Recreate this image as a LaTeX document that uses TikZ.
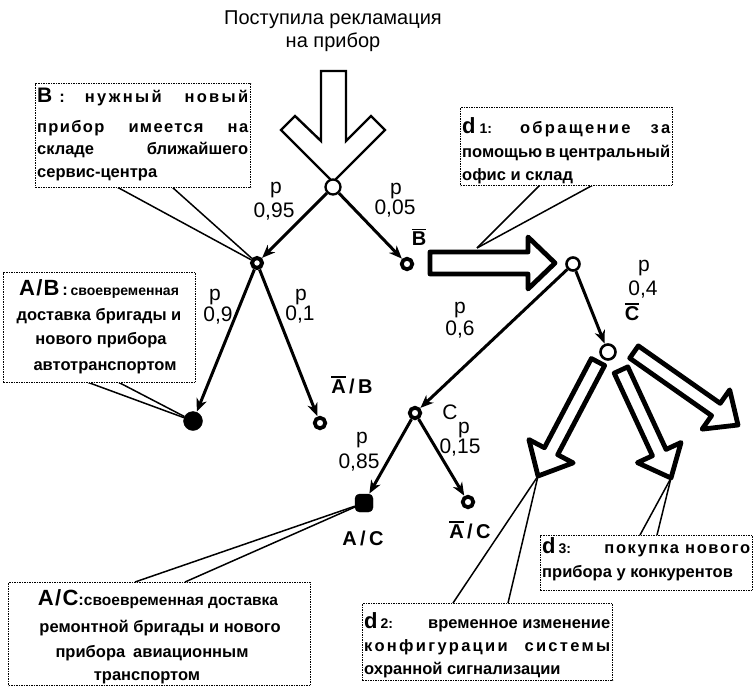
\documentclass[tikz,border=0pt]{standalone}
\usepackage{fontspec}
\setmainfont{Liberation Sans}
\usetikzlibrary{arrows.meta,calc}
\newcommand\fsz[1]{\fontsize{#1}{#1}\selectfont}
\newcommand\ovl[1]{\leavevmode\vbox{\hrule height 1.5pt\kern1.4pt\hbox{#1}}}
\newcommand\lsp[1]{\addfontfeatures{LetterSpace=#1}}
\newcommand\hollowarr[6][]{%
  \coordinate (hb) at ($(#3)!#6!(#2)$);
  \draw[harrow,#1] ($(#2)!#4!90:(#3)$) -- ($(hb)!#4!90:(#3)$) -- ($(hb)!#5!90:(#3)$) -- (#3)
     -- ($(hb)!#5!-90:(#3)$) -- ($(hb)!#4!-90:(#3)$) -- ($(#2)!#4!-90:(#3)$) -- cycle;}
\begin{document}
\begin{tikzpicture}[x=1pt,y=-1pt,
  tedge/.style={line width=3pt,-{Stealth[length=13pt,width=10.5pt,inset=4pt]},shorten >=0.3pt},
  snode/.style={circle,draw,line width=3.8pt,minimum size=10.5pt,inner sep=0pt,fill=white},
  fnode/.style={circle,fill=black,draw=black,minimum size=19pt,inner sep=0pt},
  cbox/.style={draw,dash pattern=on 1.6pt off 0.9pt,line width=1.4pt,fill=white,inner sep=0pt,anchor=north west},
  tail/.style={line width=1.5pt},
  harrow/.style={draw,line width=4.8pt,line join=round,fill=white},
  lbl/.style={font=\fsz{21},inner sep=0pt},
  blbl/.style={font=\bfseries\fsz{20},inner sep=0pt},
  ltxt/.style={font=\bfseries\fsz{16.5},inner sep=0pt,anchor=base west},
  ctxt/.style={font=\bfseries\fsz{16.5},inner sep=0pt,anchor=base},
]
\useasboundingbox (0,0) rectangle (754,688);

% title
\node[lbl,font=\fsz{20},anchor=base] (t1) at (333,24) {Поступила рекламация};
\node[lbl,font=\fsz{20},anchor=base] (t2) at (333,47) {на прибор};

% input arrow
\draw[line width=2.4pt,fill=white] (321,71) -- (346,71) -- (346,141) -- (371,116) -- (385,130) -- (333,182)
  -- (281,130) -- (295,116) -- (321,141) -- cycle;

% hollow arrows
\coordinate (sBig) at (430,263); \coordinate (tBig) at (555,263);
\hollowarr{sBig}{tBig}{11pt}{26pt}{27pt}
\coordinate (s1) at (598,362); \coordinate (a1) at (538,476);
\hollowarr{s1}{a1}{7.5pt}{25pt}{28pt}
\coordinate (s2) at (621,370); \coordinate (a2) at (671,478);
\hollowarr{s2}{a2}{7.5pt}{24pt}{28pt}
\coordinate (s3) at (634,352); \coordinate (a3) at (738,425);
\hollowarr{s3}{a3}{7.5pt}{24pt}{27pt}

% tree nodes
\node[snode,line width=2.3pt,minimum size=15pt] (nR) at (333,187) {};
\node[snode,line width=4pt,minimum size=10pt] (nB) at (257,263) {};
\node[snode] (nBb) at (407,264) {};
\node[snode,line width=2.6pt,minimum size=13pt] (nD) at (573,264) {};
\node[snode,line width=2.6pt,minimum size=15pt] (nCb) at (608,352) {};
\node[snode] (nC) at (415,413) {};
\node[fnode] (nAB) at (193,421) {};
\node[snode] (nABb) at (320,423) {};
\node[fnode,rectangle,rounded corners=4.5pt,minimum size=18pt] (nAC) at (364,503) {};
\node[snode] (nACb) at (468,502) {};

% edges
\draw[tedge] (nR) -- (nB);
\draw[tedge] (nR) -- (nBb);
\draw[tedge] (nB) -- (nAB);
\draw[tedge] (nB) -- (nABb);
\draw[tedge] (nD) -- (nCb);
\draw[tedge] (nD) -- (nC);
\draw[tedge] (nC) -- (nAC);
\draw[tedge] (nC) -- (nACb);

% edge labels
\node[lbl] (p1) at (276,190) {p};
\node[lbl] (q1) at (274,212) {0,95};
\node[lbl] (p2) at (396,191) {p};
\node[lbl] (q2) at (395,209) {0,05};
\node[blbl] (lBb) at (419,237) {\ovl{B}};
\node[lbl] (p3) at (215,297) {p};
\node[lbl] (q3) at (218,316) {0,9};
\node[lbl] (p4) at (301,297) {p};
\node[lbl] (q4) at (300,315) {0,1};
\node[blbl] (lABb) at (352,385) {\ovl{A}\,/\,B};
\node[lbl] (p5) at (460,310) {p};
\node[lbl] (q5) at (460,330) {0,6};
\node[lbl] (p6) at (644,268) {p};
\node[lbl] (q6) at (643,290) {0,4};
\node[blbl] (lCb) at (632,312) {\ovl{C}};
\node[lbl] (lC) at (450,412) {C};
\node[lbl] (p7) at (464,430) {p};
\node[lbl] (q7) at (460,448) {0,15};
\node[lbl] (p8) at (362,440) {p};
\node[lbl] (q8) at (359,463) {0,85};
\node[blbl] (lAC) at (363,538) {A\,/\,C};
\node[blbl] (lACb) at (470,530) {\ovl{A}\,/\,C};

% callout B
\coordinate (bBt1) at (117,187); \coordinate (bBt2) at (172,187);
\draw[tail] (bBt1) -- (nB); \draw[tail] (bBt2) -- (nB);
\node[cbox,minimum width=215pt,minimum height=104pt] (bB) at (35,83) {};
\node[ltxt] (bB1) at (37,102) {\makebox[211pt]{{\fsz{21}B}\hspace{7pt}:\hspace{20pt}{\lsp{14}нужный}\hfill{\lsp{14}новый}}};
\node[ltxt] (bB2) at (37,132) {\makebox[211pt]{{\lsp{8}прибор}\hfill{\lsp{8}имеется}\hfill{\lsp{8}на}}};
\node[ltxt] (bB3) at (37,154) {\makebox[211pt]{складе\hfill ближайшего}};
\node[ltxt] (bB4) at (37,177) {сервис-центра};

% callout d1
\coordinate (d1t1) at (540,185); \coordinate (d1t2) at (593,185); \coordinate (d1tip) at (477,248);
\draw[tail] (d1t1) -- (d1tip); \draw[tail] (d1t2) -- (d1tip);
\node[cbox,minimum width=212pt,minimum height=78pt] (bD1) at (460,107) {};
\node[ltxt] (bD1a) at (462,133) {\makebox[208pt]{{\fsz{22}d}\hspace{4pt}{\fsz{14}1:}\hspace{28pt}{\lsp{14}обращение}\hfill{\lsp{14}за}}};
\node[ltxt] (bD1b) at (462,157) {\makebox[208pt]{помощью\hfill в\hfill центральный}};
\node[ltxt] (bD1c) at (462,180) {офис и склад};

% callout A/B
\coordinate (aBt1) at (87,382); \coordinate (aBt2) at (118,382);
\draw[tail] (aBt1) -- (nAB); \draw[tail] (aBt2) -- (nAB);
\node[cbox,minimum width=192pt,minimum height=110pt] (bAB) at (3,272) {};
\node[ctxt] (bAB1) at (99,295) {{\fsz{22}\lsp{6}A/B}\,:\,{\fsz{14}своевременная}};
\node[ctxt] (bAB2) at (99,320) {доставка бригады и};
\node[ctxt] (bAB3) at (101,344) {нового прибора};
\node[ctxt] (bAB4) at (105,370) {автотранспортом};

% callout A/C
\coordinate (aCt1) at (135,582); \coordinate (aCt2) at (185,582);
\draw[tail] (aCt1) -- (nAC); \draw[tail] (aCt2) -- (nAC);
\node[cbox,minimum width=302pt,minimum height=103pt] (bAC) at (8,582) {};
\node[ctxt] (bAC1) at (158,605) {{\fsz{22}\lsp{6}A/C}:{\fsz{15.5}своевременная доставка}};
\node[ctxt] (bAC2) at (160,632) {ремонтной бригады и нового};
\node[ctxt] (bAC3) at (152,657) {прибора\hspace{8pt}авиационным};
\node[ctxt] (bAC4) at (147,680) {транспортом};

% callout d2
\coordinate (d2t1) at (453,603); \coordinate (d2t2) at (508,603);
\draw[tail] (d2t1) -- (a1); \draw[tail] (d2t2) -- (a1);
\node[cbox,minimum width=250pt,minimum height=77pt] (bD2) at (362,603) {};
\node[ltxt] (bD2a) at (364,628) {\makebox[246pt]{{\fsz{22}d}\hspace{3pt}{\fsz{14}2:}\hfill временное изменение}};
\node[ltxt] (bD2b) at (364,651) {\makebox[246pt]{{\lsp{14}конфигурации}\hfill{\lsp{14}системы}}};
\node[ltxt] (bD2c) at (364,674) {охранной сигнализации};

% callout d3
\coordinate (d3t1) at (640,535); \coordinate (d3t2) at (657,535);
\draw[tail] (d3t1) -- (a2); \draw[tail] (d3t2) -- (a2);
\node[cbox,minimum width=212pt,minimum height=55pt] (bD3) at (540,535) {};
\node[ltxt] (bD3a) at (542,553) {\makebox[208pt]{{\fsz{22}d}\hspace{3pt}{\fsz{14}3:}\hfill{\lsp{10}покупка}\hspace{6pt}{\lsp{10}нового}}};
\node[ltxt] (bD3b) at (542,577) {\makebox[208pt][l]{прибора у конкурентов}};
\end{tikzpicture}
\end{document}
